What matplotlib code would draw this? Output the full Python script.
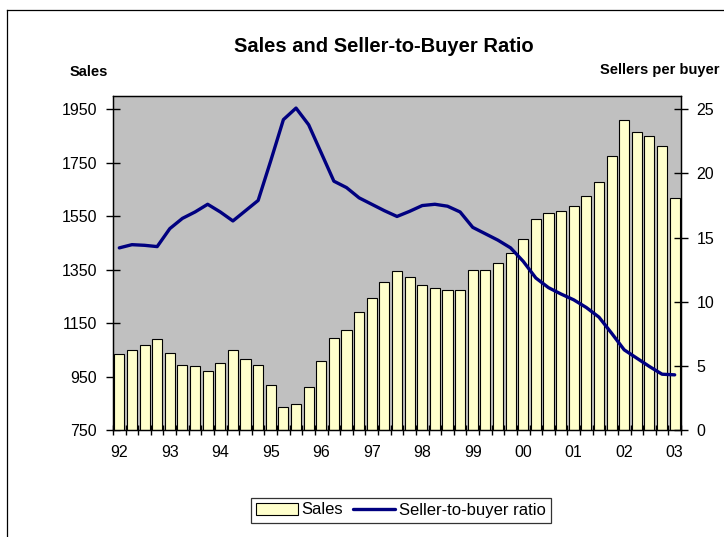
import numpy as np
import matplotlib.pyplot as plt
from matplotlib.lines import Line2D

plt.rcParams['font.family'] = ['Liberation Sans', 'DejaVu Sans']

# quarterly, 92Q1 .. 03Q1
years = ['92', '93', '94', '95', '96', '97', '98', '99', '00', '01', '02', '03']
sales = [1036, 1050, 1067, 1091, 1040, 995, 991, 969, 1000, 1050, 1015, 995,
         919, 837, 846, 910, 1009, 1096, 1124, 1191, 1245, 1304, 1344, 1321,
         1294, 1280, 1275, 1275, 1349, 1349, 1375, 1411, 1466, 1539, 1561, 1569,
         1588, 1625, 1679, 1774, 1909, 1864, 1850, 1814, 1620]
ratio = [14.2, 14.45, 14.4, 14.3, 15.7, 16.5, 17.0, 17.6, 17.0, 16.3, 17.1, 17.9,
         21.0, 24.2, 25.1, 23.8, 21.6, 19.4, 18.9, 18.1, 17.6, 17.1, 16.65, 17.05,
         17.5, 17.6, 17.45, 17.0, 15.8, 15.3, 14.8, 14.2, 13.15, 11.85, 11.1, 10.6,
         10.15, 9.55, 8.8, 7.55, 6.25, 5.6, 4.95, 4.35, 4.3]

x = np.arange(len(sales))

fig = plt.figure(figsize=(7.24, 5.37), dpi=100)
ax = fig.add_axes([113/724, 1 - 430/537, (681 - 113)/724, (430 - 96)/537])
ax.set_facecolor('#c0c0c0')

bars = ax.bar(x, sales, width=0.8, color='#ffffcc', edgecolor='black', linewidth=0.8,
              label='Sales', zorder=2)
ax.set_xlim(-0.5, len(sales) - 0.5)
ax.set_ylim(750, 2000)
ax.set_yticks(np.arange(750, 2000, 200))
ax.set_xticks(x[::4])
ax.set_xticklabels(years)
ax.set_xticks(np.arange(-0.5, len(sales), 1), minor=True)
ax.tick_params(axis='x', which='major', length=0, pad=11, labelsize=11.5)
ax.tick_params(axis='x', which='minor', length=7, width=1, direction='inout')
ax.tick_params(axis='y', length=10, width=1, direction='inout', pad=6.5, labelsize=11.5)

ax2 = ax.twinx()
line, = ax2.plot(x, ratio, color='#000080', linewidth=2.4, label='Seller-to-buyer ratio',
                 solid_joinstyle='round', solid_capstyle='round')
ax2.set_ylim(0, 25 * 1250 / 1200)
ax2.set_yticks(np.arange(0, 26, 5))
ax2.tick_params(axis='y', length=10, width=1, direction='inout', pad=6, labelsize=11.5)

for a in (ax, ax2):
    for s in a.spines.values():
        s.set_color('black')
        s.set_linewidth(0.9)

fig.text(384/724, 1 - 47/537, 'Sales and Seller-to-Buyer Ratio', ha='center', va='center',
         fontsize=14.5, fontweight='bold')
fig.text(70/724, 1 - 72/537, 'Sales', ha='left', va='center', fontsize=10.5, fontweight='bold')
fig.text(720/724, 1 - 70/537, 'Sellers per buyer', ha='right', va='center', fontsize=10.5,
         fontweight='bold')

leg = fig.legend([bars, line], ['Sales', 'Seller-to-buyer ratio'], loc='center',
                 bbox_to_anchor=(401/724, 1 - 510/537), ncol=2, fontsize=12,
                 frameon=True, fancybox=False, edgecolor='black', handlelength=2.5,
                 handletextpad=0.25, columnspacing=0.6, borderpad=0.3,
                 borderaxespad=0)
leg.get_frame().set_linewidth(0.9)

# chart area border (left and top edges visible)
fig.add_artist(Line2D([7/724, 7/724], [0, 1 - 10/537], color='black', linewidth=0.9,
                      transform=fig.transFigure))
fig.add_artist(Line2D([7/724, 1], [1 - 10/537, 1 - 10/537], color='black', linewidth=0.9,
                      transform=fig.transFigure))

fig.savefig('out.png', dpi=100)
